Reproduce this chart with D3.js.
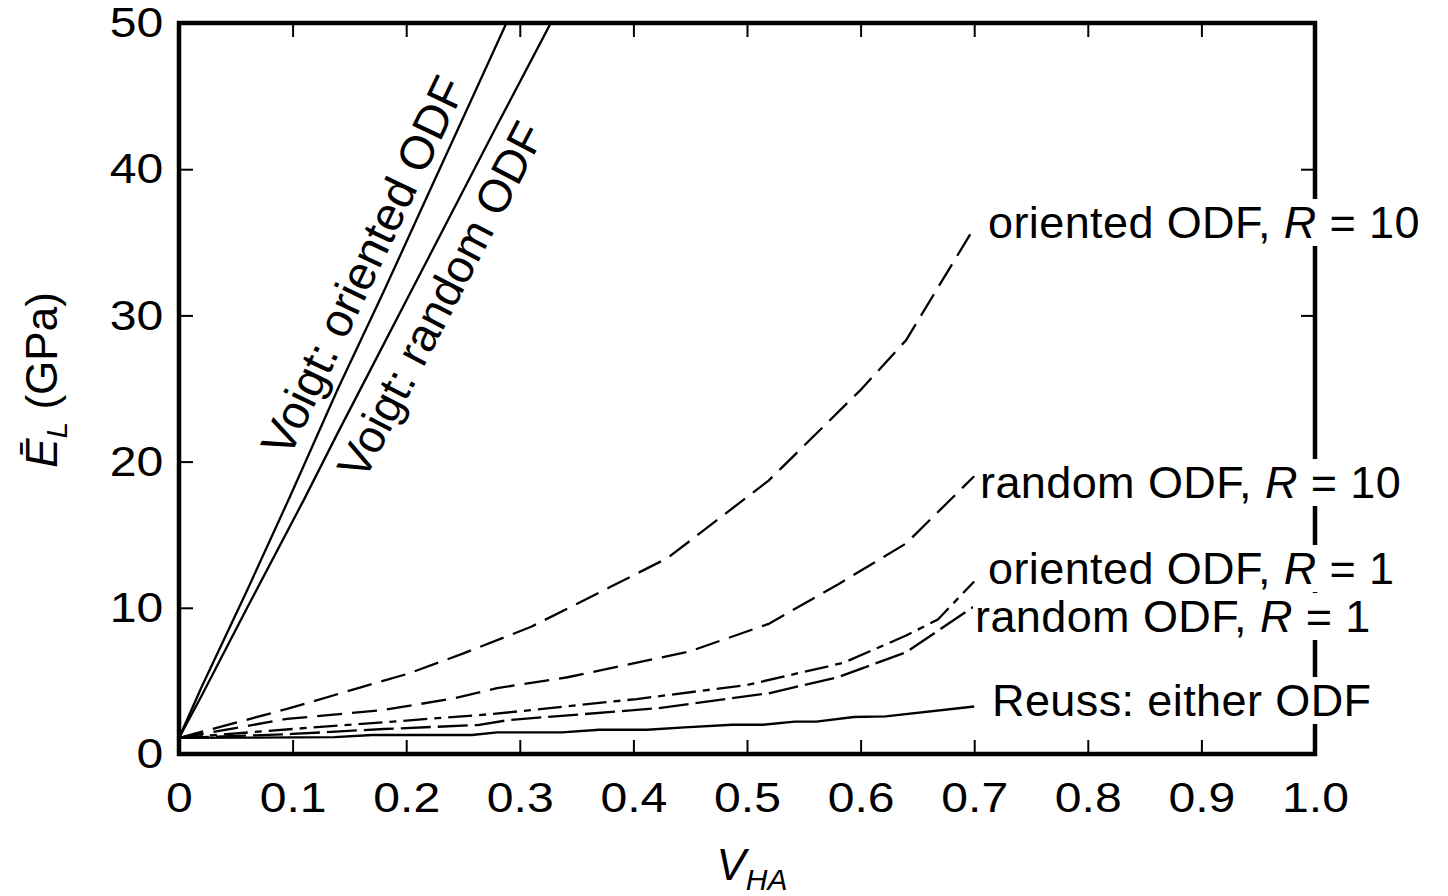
<!DOCTYPE html>
<html>
<head>
<meta charset="utf-8">
<script src="https://cdn.jsdelivr.net/npm/d3@7"></script>
<style>
    body { margin: 0; background: #fff; }
    text { font-family: "Liberation Sans", Arial, Helvetica, sans-serif; fill: #000; }
</style>
</head>
<body>
<div id="chart"></div>
<script>
// ticks
const xTicks = [0, 0.1, 0.2, 0.3, 0.4, 0.5, 0.6, 0.7, 0.8, 0.9, 1.0];
const yTicks = [0, 10, 20, 30, 40, 50];

// series (x = V_HA, y = E_L in GPa)
const voigtOrientedX = [0, 0.02, 0.06, 0.1, 0.14, 0.18, 0.22, 0.26, 0.29];
const voigtOrientedY = [1.1, 4.6, 11.2, 18.0, 25.0, 31.6, 38.4, 45.2, 50.3];

const voigtRandomX = [0, 0.02, 0.06, 0.11, 0.14, 0.18, 0.2, 0.24, 0.28, 0.33];
const voigtRandomY = [1.1, 4.0, 10.0, 17.4, 22.0, 28.0, 31.0, 37.0, 43.0, 50.4];

const orientedR10X = [0, 0.095, 0.16, 0.202, 0.251, 0.31, 0.379, 0.43, 0.519, 0.6, 0.64, 0.7];
const orientedR10Y = [1.1, 3.08, 4.56, 5.5, 6.9, 8.7, 11.4, 13.4, 18.7, 24.9, 28.3, 36.0];

const randomR10X = [0, 0.095, 0.179, 0.242, 0.28, 0.342, 0.449, 0.519, 0.58, 0.64, 0.7];
const randomR10Y = [1.1, 2.4, 3.0, 3.8, 4.5, 5.25, 7.0, 8.9, 11.6, 14.4, 19.0];

const orientedR1X = [0, 0.1, 0.18, 0.277, 0.403, 0.5, 0.585, 0.64, 0.668, 0.7];
const orientedR1Y = [1.1, 1.71, 2.17, 2.74, 3.76, 4.72, 6.24, 8.1, 9.2, 11.8];

const randomR1X = [0, 0.1, 0.18, 0.263, 0.29, 0.421, 0.519, 0.58, 0.64, 0.7];
const randomR1Y = [1.1, 1.37, 1.71, 1.98, 2.32, 3.13, 4.15, 5.25, 6.96, 10.1];

const reussX = [0, 0.137, 0.17, 0.258, 0.28, 0.337, 0.37, 0.412, 0.445, 0.487, 0.514, 0.542, 0.561, 0.594, 0.622, 0.7];
const reussY = [1.1, 1.15, 1.3, 1.3, 1.48, 1.48, 1.66, 1.66, 1.82, 2.0, 2.0, 2.21, 2.21, 2.53, 2.57, 3.25];

const W = 1448, H = 896;
const margin = {left: 179, right: 133, top: 23, bottom: 142};
const TICK_SX = 1.12;   // tick numbers are a bit wider than plain Arial

const x = d3.scaleLinear().domain([0, 1]).range([margin.left, W - margin.right]);
const y = d3.scaleLinear().domain([0, 50]).range([H - margin.bottom, margin.top]);

const svg = d3.select('#chart').append('svg')
    .attr('width', W).attr('height', H);

svg.append('clipPath').attr('id', 'plotclip').append('rect')
    .attr('x', x(0)).attr('y', y(50))
    .attr('width', x(1) - x(0)).attr('height', y(0) - y(50));

function pts(xs, ys) {
    return xs.map((v, i) => [v, ys[i]]);
}

const line = d3.line().x(d => x(d[0])).y(d => y(d[1]));

const series = [
    {data: pts(voigtOrientedX, voigtOrientedY), dash: null},
    {data: pts(voigtRandomX, voigtRandomY), dash: null},
    {data: pts(orientedR10X, orientedR10Y), dash: '25,10'},
    {data: pts(randomR10X, randomR10Y), dash: '25,10'},
    {data: pts(orientedR1X, orientedR1Y), dash: '24,7,7,7'},
    {data: pts(randomR1X, randomR1Y), dash: '30,7'},
    {data: pts(reussX, reussY), dash: null}
];

const gLines = svg.append('g').attr('clip-path', 'url(#plotclip)');
series.forEach(function (s) {
    gLines.append('path')
        .attr('d', line(s.data))
        .attr('fill', 'none')
        .attr('stroke', '#000')
        .attr('stroke-width', 2.3)
        .attr('stroke-dasharray', s.dash);
});

// axes, ticks pointing inwards
const fmtX = d => d === 0 ? '0' : d3.format('.1f')(d);

function styleAxis(g) {
    g.select('.domain').remove();
    g.selectAll('.tick line').attr('stroke', '#000').attr('stroke-width', 2);
}

const gx = svg.append('g')
    .attr('transform', `translate(0,${y(0)})`)
    .call(d3.axisBottom(x).tickValues(xTicks).tickSize(-14).tickPadding(27).tickFormat(fmtX))
    .call(styleAxis);
gx.selectAll('.tick text')
    .attr('font-size', 43)
    .attr('transform', `scale(${TICK_SX},1)`);

const gy = svg.append('g')
    .attr('transform', `translate(${x(0)},0)`)
    .call(d3.axisLeft(y).tickValues(yTicks).tickSize(-14).tickPadding(14).tickFormat(d3.format('d')))
    .call(styleAxis);
gy.selectAll('.tick text')
    .attr('font-size', 43)
    .attr('transform', `scale(${TICK_SX},1)`);

svg.append('g')
    .attr('transform', `translate(0,${y(50)})`)
    .call(d3.axisTop(x).tickValues(xTicks).tickSize(-14).tickFormat(''))
    .call(styleAxis);

svg.append('g')
    .attr('transform', `translate(${x(1)},0)`)
    .call(d3.axisRight(y).tickValues(yTicks).tickSize(-14).tickFormat(''))
    .call(styleAxis);

// frame
svg.append('rect')
    .attr('x', x(0)).attr('y', y(50))
    .attr('width', x(1) - x(0)).attr('height', y(0) - y(50))
    .attr('fill', 'none').attr('stroke', '#000').attr('stroke-width', 4.5);

// curve labels on the right, knocked out of the frame
const rightLabels = [
    {x: 988, y: 238, pre: 'oriented ODF, ', post: ' = 10'},
    {x: 980, y: 498, pre: 'random ODF, ', post: ' = 10'},
    {x: 988, y: 584, pre: 'oriented ODF, ', post: ' = 1'},
    {x: 975, y: 632, pre: 'random ODF, ', post: ' = 1'},
    {x: 992, y: 716, pre: 'Reuss: either ODF', post: null}
];

rightLabels.forEach(function (l) {
    const g = svg.append('g').attr('transform', `translate(${l.x},${l.y})`);
    const bg = g.append('rect').attr('fill', '#fff');
    const t = g.append('text').attr('font-size', 45).attr('letter-spacing', 0.4);
    t.append('tspan').text(l.pre);
    if (l.post !== null) {
        t.append('tspan').attr('font-style', 'italic').text('R');
        t.append('tspan').text(l.post);
    }
    const bb = t.node().getBBox();
    bg.attr('x', bb.x - 2).attr('y', bb.y + 2)
        .attr('width', bb.width + 4).attr('height', bb.height - 4);
});

// Voigt labels along the steep lines
function rotLabel(px, py, deg, fs, txt) {
    svg.append('text')
        .attr('transform', `translate(${px},${py}) rotate(${deg})`)
        .attr('font-size', fs)
        .text(txt);
}
rotLabel(289, 459, -64.5, 47, 'Voigt: oriented ODF');
rotLabel(364, 482, -62.5, 46, 'Voigt: random ODF');

// axis titles
const xt = svg.append('text')
    .attr('transform', 'translate(752,880)')
    .attr('text-anchor', 'middle')
    .attr('font-size', 44)
    .attr('font-style', 'italic');
xt.append('tspan').text('V');
xt.append('tspan').attr('font-size', 30).attr('dy', 10).text('HA');

const yt = svg.append('text')
    .attr('transform', 'translate(57,380) rotate(-90)')
    .attr('text-anchor', 'middle')
    .attr('font-size', 44);
yt.append('tspan').attr('font-style', 'italic').text('E\u0304');
yt.append('tspan').attr('font-style', 'italic').attr('font-size', 30).attr('dy', 10).text('L');
yt.append('tspan').attr('dy', -10).text(' (GPa)');
</script>
</body>
</html>
